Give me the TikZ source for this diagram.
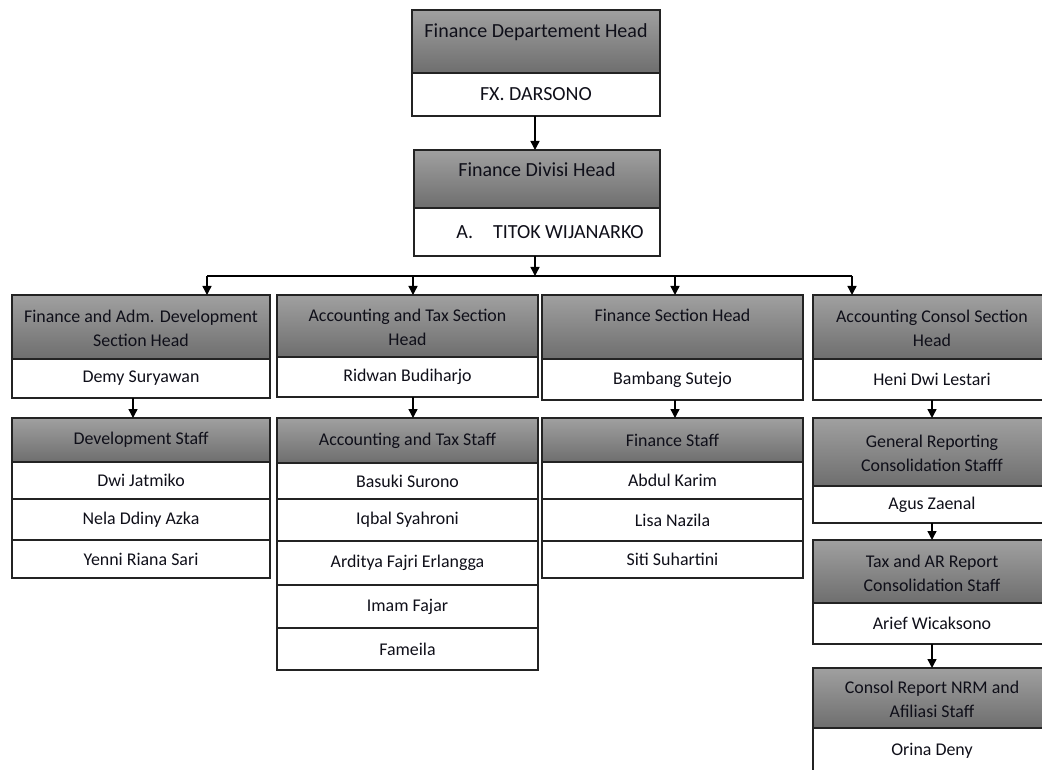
\documentclass[tikz,border=0pt]{standalone}
\usepackage{fontspec}
\setmainfont{Carlito}
\usetikzlibrary{arrows.meta}
\definecolor{hdrTop}{RGB}{160,160,160}
\definecolor{hdrBot}{RGB}{110,110,110}
\definecolor{frame}{RGB}{35,35,35}
\definecolor{txt}{RGB}{15,15,25}
\begin{document}
\begin{tikzpicture}[x=1pt,y=-1pt,
  hdr/.style={draw=frame, line width=1.8pt, top color=hdrTop, bottom color=hdrBot,
    anchor=north west, inner sep=0pt, outer sep=0pt, align=center, text=txt,
    font=\fontsize{17.9}{24}\selectfont},
  cell/.style={draw=frame, line width=1.5pt, fill=white, anchor=north west,
    inner sep=0pt, outer sep=0pt, align=center, text=txt,
    font=\fontsize{17.9}{24}\selectfont},
  big/.style={font=\fontsize{20}{24}\selectfont},
  arr/.style={line width=1.4pt, draw=black, -{Triangle[width=9pt,length=9pt]}},
  ln/.style={line width=1.4pt, draw=black}]
\useasboundingbox (0,0) rectangle (1042,770);
\clip (0,0) rectangle (1042,770);

% top
\node[hdr, big, minimum width=248pt, minimum height=63pt, text height=8pt, text depth=16pt] (t1h) at (412,10) {Finance Departement Head};
\node[cell, big, minimum width=248pt, minimum height=43pt] (t1n) at (412,73) {FX. DARSONO};
\node[hdr, big, minimum width=246pt, minimum height=58pt, text height=8pt, text depth=13pt] (t2h) at (414,150) {Finance Divisi Head};
\node[cell, big, minimum width=246pt, minimum height=48pt] (t2n) at (414,208) {\hspace*{26pt}A.\hspace{20pt}TITOK WIJANARKO};
\draw[arr] ([xshift=-1pt]t1n.south) -- ([xshift=-1pt]t1n.south |- t2h.north);

% bus
\coordinate (bus) at (535,276);
\coordinate (bL) at (207,276);
\coordinate (b2) at (413,276);
\coordinate (b3) at (675,276);
\coordinate (bR) at (852,276);
\draw[arr] (t2n.south -| bus) -- (bus);
\draw[ln] (bL) -- (bR);

% column 1
\node[hdr, minimum width=258pt, minimum height=64pt] (c1h) at (12,295) {\rule{0pt}{16pt}Finance and Adm. Development\\Section Head};
\node[cell, minimum width=258pt, minimum height=39pt] (c1n) at (12,359) {Demy Suryawan};
\node[hdr, minimum width=258pt, minimum height=44pt] (c1s) at (12,418) {Development Staff};
\node[cell, minimum width=258pt, minimum height=37pt] (c1a) at (12,462) {Dwi Jatmiko};
\node[cell, minimum width=258pt, minimum height=41pt] (c1b) at (12,499) {Nela Ddiny Azka};
\node[cell, minimum width=258pt, minimum height=38pt] (c1c) at (12,540) {Yenni Riana Sari};

% column 2
\node[hdr, minimum width=261pt, minimum height=62pt] (c2h) at (277,295) {\rule{0pt}{16pt}Accounting and Tax Section\\Head};
\node[cell, minimum width=261pt, minimum height=40pt] (c2n) at (277,357) {Ridwan Budiharjo};
\node[hdr, minimum width=261pt, minimum height=45pt] (c2s) at (277,418) {Accounting and Tax Staff};
\node[cell, minimum width=261pt, minimum height=36pt] (c2a) at (277,463) {Basuki Surono};
\node[cell, minimum width=261pt, minimum height=42pt] (c2b) at (277,499) {Iqbal Syahroni};
\node[cell, minimum width=261pt, minimum height=44pt] (c2c) at (277,541) {Arditya Fajri Erlangga};
\node[cell, minimum width=261pt, minimum height=43pt] (c2d) at (277,585) {Imam Fajar};
\node[cell, minimum width=261pt, minimum height=42pt] (c2e) at (277,628) {Fameila};

% column 3
\node[hdr, minimum width=261pt, minimum height=64pt, text height=8pt, text depth=20pt] (c3h) at (542,295) {Finance Section Head};
\node[cell, minimum width=261pt, minimum height=41pt] (c3n) at (542,359) {Bambang Sutejo};
\node[hdr, minimum width=261pt, minimum height=44pt] (c3s) at (542,418) {Finance Staff};
\node[cell, minimum width=261pt, minimum height=37pt] (c3a) at (542,462) {Abdul Karim};
\node[cell, minimum width=261pt, minimum height=42pt] (c3b) at (542,499) {Lisa Nazila};
\node[cell, minimum width=261pt, minimum height=37pt] (c3c) at (542,541) {Siti Suhartini};

% column 4
\node[hdr, minimum width=238pt, minimum height=64pt] (c4h) at (813,295) {\rule{0pt}{16pt}Accounting Consol Section\\Head};
\node[cell, minimum width=238pt, minimum height=41pt] (c4n) at (813,359) {Heni Dwi Lestari};
\node[hdr, minimum width=238pt, minimum height=68pt] (c4ah) at (813,418) {\rule{0pt}{16pt}General Reporting\\Consolidation Stafff};
\node[cell, minimum width=238pt, minimum height=37pt] (c4an) at (813,486) {Agus Zaenal};
\node[hdr, minimum width=238pt, minimum height=63pt] (c4bh) at (813,540) {\rule{0pt}{16pt}Tax and AR Report\\Consolidation Staff};
\node[cell, minimum width=238pt, minimum height=41pt] (c4bn) at (813,603) {Arief Wicaksono};
\node[hdr, minimum width=238pt, minimum height=60pt] (c4ch) at (813,668) {\rule{0pt}{16pt}Consol Report NRM and\\Afiliasi Staff};
\node[cell, minimum width=238pt, minimum height=46pt] (c4cn) at (813,728) {Orina Deny};

% bus drops
\draw[arr] (bL) -- (bL |- c1h.north);
\draw[arr] (b2) -- (b2 |- c2h.north);
\draw[arr] (b3) -- (b3 |- c3h.north);
\draw[arr] (bR) -- (bR |- c4h.north);

% inner arrows
\draw[arr] ([xshift=-8pt]c1n.south) -- ([xshift=-8pt]c1n.south |- c1s.north);
\draw[arr] ([xshift=5.5pt]c2n.south) -- ([xshift=5.5pt]c2n.south |- c2s.north);
\draw[arr] ([xshift=2.5pt]c3n.south) -- ([xshift=2.5pt]c3n.south |- c3s.north);
\draw[arr] (c4n.south) -- (c4ah.north);
\draw[arr] (c4an.south) -- (c4bh.north);
\draw[arr] (c4bn.south) -- (c4ch.north);
\end{tikzpicture}
\end{document}
